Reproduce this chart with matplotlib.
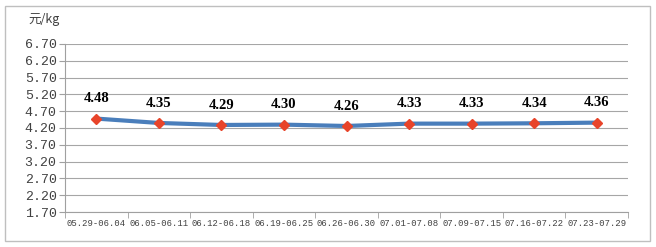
import matplotlib
matplotlib.use("Agg")
import matplotlib.pyplot as plt
from matplotlib.patches import Rectangle
import numpy as np

plt.rcParams['font.family'] = ['Liberation Mono', 'Noto Sans CJK SC', 'DejaVu Sans']

categories = ["05.29-06.04", "06.05-06.11", "06.12-06.18", "06.19-06.25", "06.26-06.30",
              "07.01-07.08", "07.09-07.15", "07.16-07.22", "07.23-07.29"]
values = [4.48, 4.35, 4.29, 4.30, 4.26, 4.33, 4.33, 4.34, 4.36]
yticks = [1.70, 2.20, 2.70, 3.20, 3.70, 4.20, 4.70, 5.20, 5.70, 6.20, 6.70]

fig = plt.figure(figsize=(6.56, 2.47), dpi=100)
fig.patches.append(Rectangle((5/656, 6/247), 645/656, 235/247, transform=fig.transFigure,
                             fill=False, edgecolor='#BFBFBF', linewidth=1))
ax = fig.add_axes([65/656, 35/247, 563/656, 168/247])

x = np.arange(len(categories))
ax.plot(x, values, color='#4A7EBB', linewidth=3, zorder=3)
ax.plot(x, values, linestyle='none', marker='D', markersize=5, color='#E8442A', zorder=4)
for xi, v in zip(x, values):
    ax.text(xi, v + 0.40, f"{v:.2f}", ha='center', va='bottom', fontsize=10.5,
            fontweight='bold', family=['Liberation Serif', 'DejaVu Serif'])

ax.set_xlim(-0.5, len(categories) - 0.5)
ax.set_ylim(1.70, 6.70)
ax.set_yticks(yticks)
ax.set_yticklabels([f"{t:.2f}" for t in yticks], fontsize=9.5, color='#404040')
ax.set_xticks(x)
ax.set_xticklabels(categories, fontsize=6.4, color='#404040')
ax.set_xticks(np.arange(-0.5, len(categories)), minor=True)
ax.tick_params(axis='x', which='major', length=0, pad=5)
ax.tick_params(axis='x', which='minor', length=4, color='#A0A0A0')
ax.tick_params(axis='y', length=4, color='#A0A0A0', pad=2)
ax.grid(axis='y', color='#A6A6A6', linewidth=0.8)
ax.set_axisbelow(True)
for s in ['top', 'right']:
    ax.spines[s].set_visible(False)
for s in ['left', 'bottom']:
    ax.spines[s].set_color('#A0A0A0')

fig.text(28/656, 1 - 20/247, "元/kg", fontsize=9, va='center', ha='left', color='#404040',
         family=['Noto Sans CJK SC', 'DejaVu Sans'])

fig.savefig("out.png", dpi=100)
